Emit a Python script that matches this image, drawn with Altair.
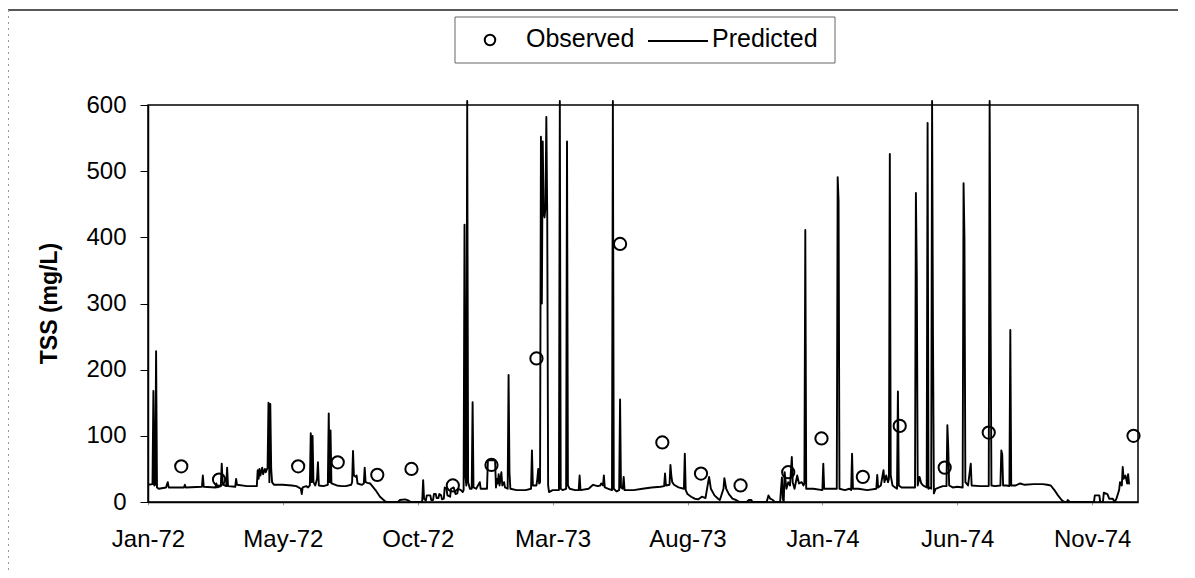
import altair as alt
import pandas as pd

# ---- axis / label data ----
x_labels = ["Jan-72", "May-72", "Oct-72", "Mar-73", "Aug-73", "Jan-74", "Jun-74", "Nov-74"]
x_tick_days = [0, 150, 300, 450, 600, 750, 900, 1050]
y_ticks = [0, 100, 200, 300, 400, 500, 600]
legend_labels = ["Observed", "Predicted"]

# ---- observed TSS (day since 1-Jan-1972, mg/L) ----
obs_day = [37, 79, 167, 211, 255, 293, 339, 382, 432, 525, 572, 615, 659, 712, 749, 795, 836, 886, 935, 1096]
obs_tss = [54, 34, 54, 60, 41, 50, 25, 56, 217, 390, 90, 43, 25, 45, 96, 38, 115, 52, 105, 100]

# ---- predicted TSS, (day, mg/L) ----
pred_1972a = [(0, 26), (5, 27), (6, 168), (7, 25), (8, 26), (9, 228), (10, 22), (12, 20), (20, 22), (22, 30),
              (23, 22), (40, 22), (41, 26), (42, 22), (60, 23), (61, 40), (62, 23), (75, 22), (76, 28), (77, 22),
              (81, 24), (82, 58), (83, 30), (84, 26), (87, 24), (88, 52), (89, 24), (97, 23), (98, 35), (99, 26),
              (110, 24), (118, 24), (121, 24), (122, 48), (123, 35), (124, 50), (125, 40), (127, 52), (128, 42),
              (130, 50), (131, 45), (133, 52), (134, 150), (135, 30), (136, 148), (137, 50), (138, 30), (140, 26),
              (150, 26), (160, 25), (165, 24), (170, 20), (171, 12), (172, 22), (176, 24), (178, 22), (180, 25),
              (181, 104), (182, 30), (183, 100), (184, 30), (186, 25), (188, 35), (189, 60), (190, 25), (195, 24),
              (200, 26), (201, 134), (202, 30), (203, 108), (204, 28), (210, 25), (215, 24), (220, 24), (226, 26),
              (227, 30), (228, 77), (229, 40), (231, 38), (232, 40), (233, 28), (238, 26), (240, 28), (241, 52),
              (242, 30), (244, 29), (247, 28), (253, 18), (258, 8), (263, 2), (265, 0)]
pred_1972b = [(278, 0), (280, 3), (286, 4), (290, 2), (292, 0), (304, 0), (305, 2), (306, 33), (307, 5), (309, 2),
              (310, 10), (314, 10), (315, 3), (317, 3), (318, 12), (320, 12), (321, 6), (323, 6), (324, 12),
              (326, 10), (327, 4), (329, 5), (330, 22), (332, 20), (333, 10), (336, 8), (337, 20), (340, 22),
              (342, 12), (344, 13), (345, 20), (348, 18), (350, 15), (351, 18), (352, 419), (353, 40), (354, 25),
              (355, 606), (356, 30), (358, 20), (360, 20), (361, 151), (362, 22), (365, 20), (369, 30), (370, 20),
              (375, 20), (377, 20), (378, 63), (386, 63), (387, 22), (388, 35), (389, 28), (390, 42), (391, 25),
              (393, 45), (394, 25), (396, 30), (397, 22), (400, 20), (401, 192), (402, 45), (403, 20), (410, 18),
              (420, 18), (426, 20), (427, 78), (428, 25), (432, 25), (433, 35), (434, 50), (435, 28), (436, 30),
              (437, 552), (438, 300), (439, 545), (440, 440), (441, 430), (442, 445), (443, 582), (444, 430),
              (445, 25), (446, 15), (450, 18)]
pred_1973 = [(457, 18), (458, 606), (459, 20), (461, 18), (465, 20), (466, 545), (467, 25), (469, 20), (475, 18),
             (479, 18), (480, 40), (481, 18), (490, 20), (495, 26), (500, 24), (503, 25), (504, 28), (506, 25),
             (507, 40), (508, 22), (512, 20), (516, 18), (517, 606), (518, 20), (521, 16), (524, 18), (525, 155),
             (526, 22), (528, 20), (529, 38), (530, 18), (540, 18), (550, 20), (560, 22), (570, 23), (574, 24),
             (575, 43), (576, 25), (580, 26), (581, 56), (582, 40), (583, 30), (585, 26), (590, 22), (596, 20),
             (597, 73), (598, 18), (600, 12), (604, 8), (608, 5), (612, 4), (616, 8), (620, 6), (624, 38), (626, 20),
             (630, 10), (634, 5), (636, 3), (640, 20), (641, 36), (643, 20), (646, 12), (650, 5), (654, 3), (658, 0),
             (666, 0), (668, 3), (671, 3), (672, 0), (688, 0), (690, 10), (692, 5), (695, 3), (697, 0), (703, 0),
             (704, 20), (705, 37), (706, 5), (707, 0), (708, 45), (710, 20), (712, 30), (714, 25), (716, 68),
             (717, 30), (719, 20), (722, 40), (724, 28), (727, 30), (729, 25), (730, 28)]
pred_1974a = [(731, 411), (732, 20), (740, 20), (750, 18), (751, 58), (752, 20), (760, 20), (766, 20), (767, 491),
              (768, 455), (769, 20), (775, 18), (780, 20), (782, 18), (783, 73), (784, 20), (790, 20), (800, 18),
              (810, 20), (811, 41), (812, 22), (815, 25), (818, 48), (819, 30), (821, 40), (823, 30), (824, 35),
              (825, 526), (826, 40), (828, 25), (831, 22), (833, 20), (834, 167), (835, 25), (838, 22), (845, 22),
              (853, 22), (854, 467), (855, 343), (856, 25), (858, 38), (860, 28), (862, 25), (866, 22), (867, 573),
              (868, 20), (870, 22), (871, 20), (872, 606), (873, 250), (874, 13), (876, 20), (880, 22), (884, 24),
              (888, 24), (889, 116), (890, 81), (891, 25), (895, 22), (900, 23), (906, 22), (907, 482), (908, 399),
              (909, 30), (912, 25), (915, 58), (916, 25), (925, 24), (935, 24), (936, 606), (937, 293), (938, 25),
              (942, 24), (948, 25), (949, 78), (950, 72), (951, 25), (955, 25), (958, 24), (959, 260), (960, 25)]
pred_1974b = [(965, 25), (970, 28), (975, 26), (985, 27), (995, 27), (1000, 26), (1004, 25), (1008, 18), (1012, 10),
              (1016, 3), (1019, 0), (1022, 0), (1023, 3), (1025, 0), (1052, 0), (1053, 10), (1058, 10), (1059, 0),
              (1062, 0), (1063, 14), (1067, 12), (1069, 5), (1073, 5), (1075, 0), (1077, 5), (1080, 18), (1081, 30),
              (1083, 25), (1084, 53), (1085, 35), (1087, 40), (1089, 28), (1090, 42), (1091, 28), (1092, 28)]

pred = pred_1972a + pred_1972b + pred_1973 + pred_1974a + pred_1974b
pred_df = pd.DataFrame(pred, columns=["day", "tss"])
obs_df = pd.DataFrame({"day": obs_day, "tss": obs_tss})

FONT = "Liberation Sans"
label_expr = "[" + ",".join("'%s'" % l for l in x_labels) + "][round(datum.value/150)]"

x_enc = alt.X("day:Q", scale=alt.Scale(domain=[0, 1101], nice=False, zero=False),
              axis=alt.Axis(values=x_tick_days, labelExpr=label_expr, title=None, grid=False,
                            tickSize=3, tickColor="#999", labelPadding=22, labelFontSize=24,
                            domainColor="black", domainWidth=1.5, labelFlush=False))
y_enc = alt.Y("tss:Q", scale=alt.Scale(domain=[0, 600], nice=False),
              axis=alt.Axis(values=y_ticks, title="TSS (mg/L)", grid=False, tickSize=8, tickColor="black",
                            labelPadding=14, labelFontSize=24, titleFontSize=23, titleFontWeight="bold",
                            titleX=-99, titleY=198, titleAngle=270, titleBaseline="middle",
                            domainColor="black", domainWidth=1.5))

line = alt.Chart(pred_df).mark_line(color="black", strokeWidth=1.9, strokeJoin="round", clip=False).encode(
    x=x_enc, y=y_enc)

points = alt.Chart(obs_df).mark_point(filled=False, color="black", strokeWidth=2, size=150, opacity=1).encode(
    x="day:Q", y="tss:Q")

one = pd.DataFrame({"a": [0]})

# figure frame: solid line along the top, faint dotted line down the left side
frame_top = alt.Chart(one).mark_rule(color="#222", strokeWidth=1.5).encode(
    x=alt.value(-140), x2=alt.value(1045), y=alt.value(-95))
frame_left = alt.Chart(one).mark_rule(color="#999", strokeWidth=1, strokeDash=[2, 4]).encode(
    x=alt.value(-139.5), y=alt.value(-95), y2=alt.value(470))

# legend box (drawn by hand, above the plot)
leg_box = alt.Chart(one).mark_rect(fill="white", stroke="#666", strokeWidth=1).encode(
    x=alt.value(307), x2=alt.value(687), y=alt.value(-88), y2=alt.value(-42))
leg_circle = alt.Chart(one).mark_point(shape="circle", filled=False, color="black", strokeWidth=2,
                                       size=110, opacity=1).encode(x=alt.value(342), y=alt.value(-65))
leg_line = alt.Chart(one).mark_rule(color="black", strokeWidth=1.8).encode(
    x=alt.value(500), x2=alt.value(560), y=alt.value(-64))
leg_text_obs = alt.Chart(one).mark_text(text=legend_labels[0], align="left", baseline="middle", fontSize=25,
                                        font=FONT, color="black").encode(x=alt.value(378), y=alt.value(-66))
leg_text_pred = alt.Chart(one).mark_text(text=legend_labels[1], align="left", baseline="middle", fontSize=25,
                                         font=FONT, color="black").encode(x=alt.value(564), y=alt.value(-66))

chart = alt.layer(line, points, frame_top, frame_left, leg_box, leg_circle, leg_line,
                  leg_text_obs, leg_text_pred).properties(
    width=990, height=397,
    autosize=alt.AutoSizeParams(type="none"),
    padding={"left": 140, "top": 97, "right": 40, "bottom": 70},
).configure(font=FONT).configure_view(stroke="black", strokeWidth=1.5).configure_axis(
    labelColor="black", titleColor="black", labelFont=FONT, titleFont=FONT)

chart.save("out.html", embed_options={"renderer": "svg", "actions": False})
